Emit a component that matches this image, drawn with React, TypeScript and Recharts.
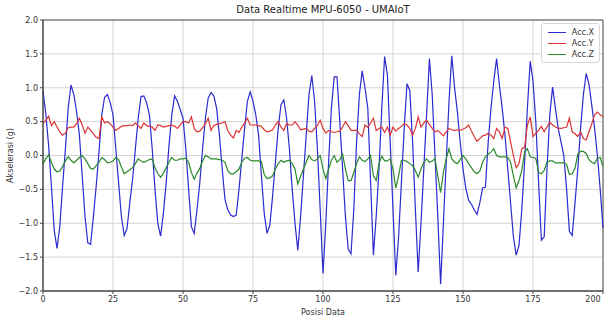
import { LineChart, Line, XAxis, YAxis, CartesianGrid, ReferenceArea, Label } from "recharts";

const accX = [
  0.95, 0.62, 0.15, -0.45, -1.1, -1.37, -1.05, -0.45, 0.1, 0.7,
  1.04, 0.9, 0.65, 0.3, -0.3, -0.9, -1.29, -1.31, -0.9, -0.45,
  0.05, 0.6, 0.86, 0.9, 0.78, 0.6, 0.1, -0.4, -0.9, -1.18,
  -1.08, -0.7, -0.35, 0.1, 0.55, 0.87, 0.88, 0.78, 0.6, 0.1,
  -0.5, -1.0, -1.19, -0.85, -0.4, 0.15, 0.6, 0.88, 0.8, 0.68,
  0.55, 0.1, -0.5, -1.05, -1.15, -0.8, -0.4, 0.1, 0.55, 0.85,
  0.93, 0.88, 0.7, 0.3, -0.2, -0.65, -0.8, -0.88, -0.9, -0.88,
  -0.5, -0.05, 0.4, 0.8, 0.94, 0.8, 0.6, 0.3, -0.3, -0.85,
  -1.15, -1.03, -0.6, -0.1, 0.4, 0.75, 0.82, 0.55, 0.1, -0.5,
  -1.0, -1.4, -0.9, -0.3, 0.3, 0.9, 1.18, 0.8, 0.1, -0.8,
  -1.74, -1.0, -0.1, 0.7, 1.16, 1.16, 0.5, -0.2, -0.9, -1.38,
  -1.45, -0.8, 0.2, 0.9, 1.25, 1.0, 0.7, -0.4, -1.47, -0.9,
  -0.2, 0.7, 1.46, 1.19, 0.2, -0.8, -1.77, -1.2, -0.4, 0.4,
  1.06, 0.96, 0.2, -0.8, -1.72, -1.0, -0.2, 0.6, 1.43, 0.9,
  0.0, -0.9, -1.9, -1.0, -0.1, 0.8, 1.47, 1.0, 0.64, 0.2,
  -0.2, -0.48, -0.66, -0.72, -0.8, -0.87, -0.7, -0.48, -0.47, 0.2,
  0.7, 1.1, 1.43, 1.04, 0.7, 0.3, -0.2, -0.7, -1.2, -1.47,
  -1.33, -0.8, -0.1, 0.7, 1.39, 1.1, 0.5, -0.4, -1.25, -1.2,
  -0.2, 0.6, 1.01, 0.7, 0.4, 0.2, 0.0, -0.5, -1.12, -1.18,
  -0.7, -0.2, 0.4, 0.9, 1.21, 1.05, 0.74, 0.4, 0.0, -0.5,
  -1.07,
];

const accY = [
  0.47, 0.52, 0.58, 0.44, 0.5, 0.42, 0.35, 0.3, 0.33, 0.41,
  0.42, 0.42, 0.47, 0.55, 0.45, 0.33, 0.42, 0.37, 0.32, 0.27,
  0.25, 0.57, 0.48, 0.5, 0.47, 0.42, 0.37, 0.4, 0.43, 0.44,
  0.44, 0.45, 0.44, 0.48, 0.44, 0.4, 0.48, 0.44, 0.43, 0.42,
  0.37, 0.45, 0.44, 0.42, 0.43, 0.44, 0.45, 0.43, 0.4, 0.45,
  0.5, 0.5, 0.48, 0.57, 0.4, 0.35, 0.36, 0.41, 0.47, 0.55,
  0.37, 0.44, 0.46, 0.47, 0.48, 0.5, 0.37, 0.3, 0.26, 0.37,
  0.34, 0.42, 0.48, 0.55, 0.45, 0.45, 0.45, 0.44, 0.43, 0.38,
  0.35, 0.36, 0.38, 0.45, 0.5, 0.42, 0.37, 0.47, 0.45, 0.45,
  0.5, 0.45, 0.38, 0.39, 0.4, 0.36, 0.35, 0.4, 0.44, 0.52,
  0.4, 0.33, 0.37, 0.35, 0.34, 0.35, 0.36, 0.42, 0.5, 0.44,
  0.37, 0.37, 0.37, 0.32, 0.28, 0.45, 0.42, 0.48, 0.55, 0.37,
  0.4, 0.42, 0.34, 0.42, 0.3, 0.42, 0.36, 0.4, 0.43, 0.47,
  0.45, 0.4, 0.3, 0.4, 0.57, 0.42, 0.48, 0.52, 0.46, 0.4,
  0.35, 0.37, 0.33, 0.29, 0.35, 0.4, 0.38, 0.37, 0.38, 0.37,
  0.39, 0.41, 0.45, 0.36, 0.28, 0.21, 0.25, 0.29, 0.3, 0.33,
  0.3, 0.25, 0.4, 0.35, 0.25, 0.42, 0.4, 0.2, 0.0, -0.18,
  -0.12, 0.1, 0.12, 0.45, 0.57, 0.28, 0.33, 0.37, 0.43, 0.35,
  0.42, 0.49, 0.45, 0.42, 0.4, 0.4, 0.41, 0.42, 0.55, 0.35,
  0.32, 0.28, 0.35, 0.25, 0.23, 0.35, 0.47, 0.6, 0.64, 0.6,
  0.57,
];

const accZ = [
  -0.12, -0.05, 0.01, -0.1, -0.2, -0.24, -0.23, -0.16, -0.08, -0.02,
  -0.07, -0.11, -0.07, -0.03, 0.0, -0.05, -0.12, -0.19, -0.2, -0.15,
  -0.1, -0.03, -0.06, -0.11, -0.1, -0.08, -0.03, -0.06, -0.17, -0.27,
  -0.24, -0.21, -0.18, -0.12, -0.05, -0.08, -0.1, -0.08, -0.06, -0.05,
  -0.18, -0.27, -0.32, -0.26, -0.18, -0.1, -0.03, -0.07, -0.07, -0.05,
  -0.05, -0.04, -0.1, -0.25, -0.35, -0.26, -0.19, -0.08, 0.0, -0.02,
  -0.05, -0.05, -0.05, -0.06, -0.07, -0.1, -0.22, -0.27, -0.27, -0.24,
  -0.2, -0.1, -0.04, -0.03, -0.07, -0.08, -0.08, -0.08, -0.09, -0.28,
  -0.34, -0.33, -0.3, -0.2, -0.12, -0.07, -0.1, -0.08, -0.07, -0.12,
  -0.2, -0.42, -0.31, -0.2, -0.1, 0.0, -0.06, -0.08, -0.05, 0.0,
  -0.2, -0.34, -0.2, -0.07, 0.0, -0.1, -0.06, 0.02, -0.2, -0.37,
  -0.37, -0.25, -0.12, -0.02, -0.07, -0.09, -0.05, 0.0, -0.3, -0.37,
  -0.12, -0.01, -0.08, -0.08, -0.05, -0.2, -0.48, -0.3, -0.07, -0.07,
  -0.09, -0.12, -0.15, -0.22, -0.32, -0.2, -0.1, -0.05, -0.1, -0.08,
  -0.05, -0.3, -0.55, -0.25, -0.05, 0.1, -0.05, -0.1, -0.12, -0.06,
  0.0, -0.05, -0.12, -0.18, -0.24, -0.27, -0.23, -0.1, -0.02, 0.02,
  0.05, 0.1, 0.0, -0.02, -0.02, -0.02, -0.03, -0.1, -0.3, -0.48,
  -0.37, -0.22, 0.05, 0.1, -0.02, -0.03, -0.04, -0.25, -0.27, -0.22,
  -0.1, -0.08, -0.08, -0.11, -0.11, -0.11, -0.11, -0.13, -0.28, -0.27,
  -0.19, 0.02, 0.06, 0.06, 0.03, -0.06, -0.1, -0.12, -0.04, -0.03,
  -0.16,
];

const xTicks = [0, 25, 50, 75, 100, 125, 150, 175, 200];
const yTicks = [-2, -1.5, -1, -0.5, 0, 0.5, 1, 1.5, 2];

const series = [
  { key: "x", name: "Acc.X", color: "#2b2bd0" },
  { key: "y", name: "Acc.Y", color: "#dc3434" },
  { key: "z", name: "Acc.Z", color: "#2a8a2a" },
];

const rows = accX.map((v, i) => ({ idx: i, x: v, y: accY[i], z: accZ[i] }));

const font = "'DejaVu Sans', sans-serif";

const fmtY = (v: number) => {
  const s = Math.abs(v).toFixed(1);
  return v < 0 ? "\u2212" + s : s;
};

// last label would spill over the right edge, nudge it in a bit
const XTick = (props: any) => {
  const { x, y, payload } = props;
  const last = payload.value === xTicks[xTicks.length - 1];
  return (
    <text
      x={last ? x - 3 : x}
      y={y}
      dy="0.71em"
      textAnchor="middle"
      fontSize={8}
      fill="#333"
      fontFamily={font}
    >
      {payload.value}
    </text>
  );
};

export default function App() {
  return (
    <div style={{ position: "absolute", left: 0, top: 0, width: 608, height: 320, background: "#fff" }}>
      <div
        style={{
          position: "absolute",
          left: 43,
          width: 560,
          top: 4,
          textAlign: "center",
          fontFamily: font,
          fontSize: 10,
          color: "#222",
        }}
      >
        Data Realtime MPU-6050 - UMAIoT
      </div>
      <LineChart width={608} height={320} data={rows} margin={{ top: 20, right: 5, left: 0, bottom: 0 }}>
        <CartesianGrid stroke="#d4d4d4" strokeWidth={1} />
        <XAxis
          dataKey="idx"
          type="number"
          domain={[0, 200]}
          ticks={xTicks}
          height={29}
          tickSize={3}
          tick={<XTick />}
          stroke="#444"
        >
          <Label value="Posisi Data" position="insideBottom" offset={5} style={{ fontSize: 8, fill: "#333", fontFamily: font }} />
        </XAxis>
        <YAxis
          type="number"
          domain={[-2, 2]}
          ticks={yTicks}
          width={43}
          tickSize={3}
          tickFormatter={fmtY}
          tick={{ fontSize: 8, fill: "#333", fontFamily: font }}
          stroke="#444"
          allowDataOverflow
        >
          <Label value="Akselerasi (g)" angle={-90} position="insideLeft" offset={10} style={{ fontSize: 8, fill: "#333", fontFamily: font, textAnchor: "middle" }} />
        </YAxis>
        <ReferenceArea x1={0} x2={200} y1={-2} y2={2} fill="none" stroke="#555" strokeWidth={1} />
        {series.map((s) => (
          <Line
            key={s.key}
            dataKey={s.key}
            name={s.name}
            type="linear"
            stroke={s.color}
            strokeWidth={1.2}
            dot={false}
            isAnimationActive={false}
          />
        ))}
      </LineChart>
      <div
        style={{
          position: "absolute",
          top: 23,
          right: 8,
          background: "#fff",
          border: "1px solid #d6d6d6",
          borderRadius: 3,
          padding: "3px 5px 2px 6px",
          fontFamily: font,
          fontSize: 8,
          color: "#333",
        }}
      >
        {series.map((s) => (
          <div key={s.key} style={{ display: "flex", alignItems: "center", height: 11 }}>
            <span style={{ width: 18, height: 1.5, background: s.color, marginRight: 6 }} />
            <span>{s.name}</span>
          </div>
        ))}
      </div>
    </div>
  );
}
